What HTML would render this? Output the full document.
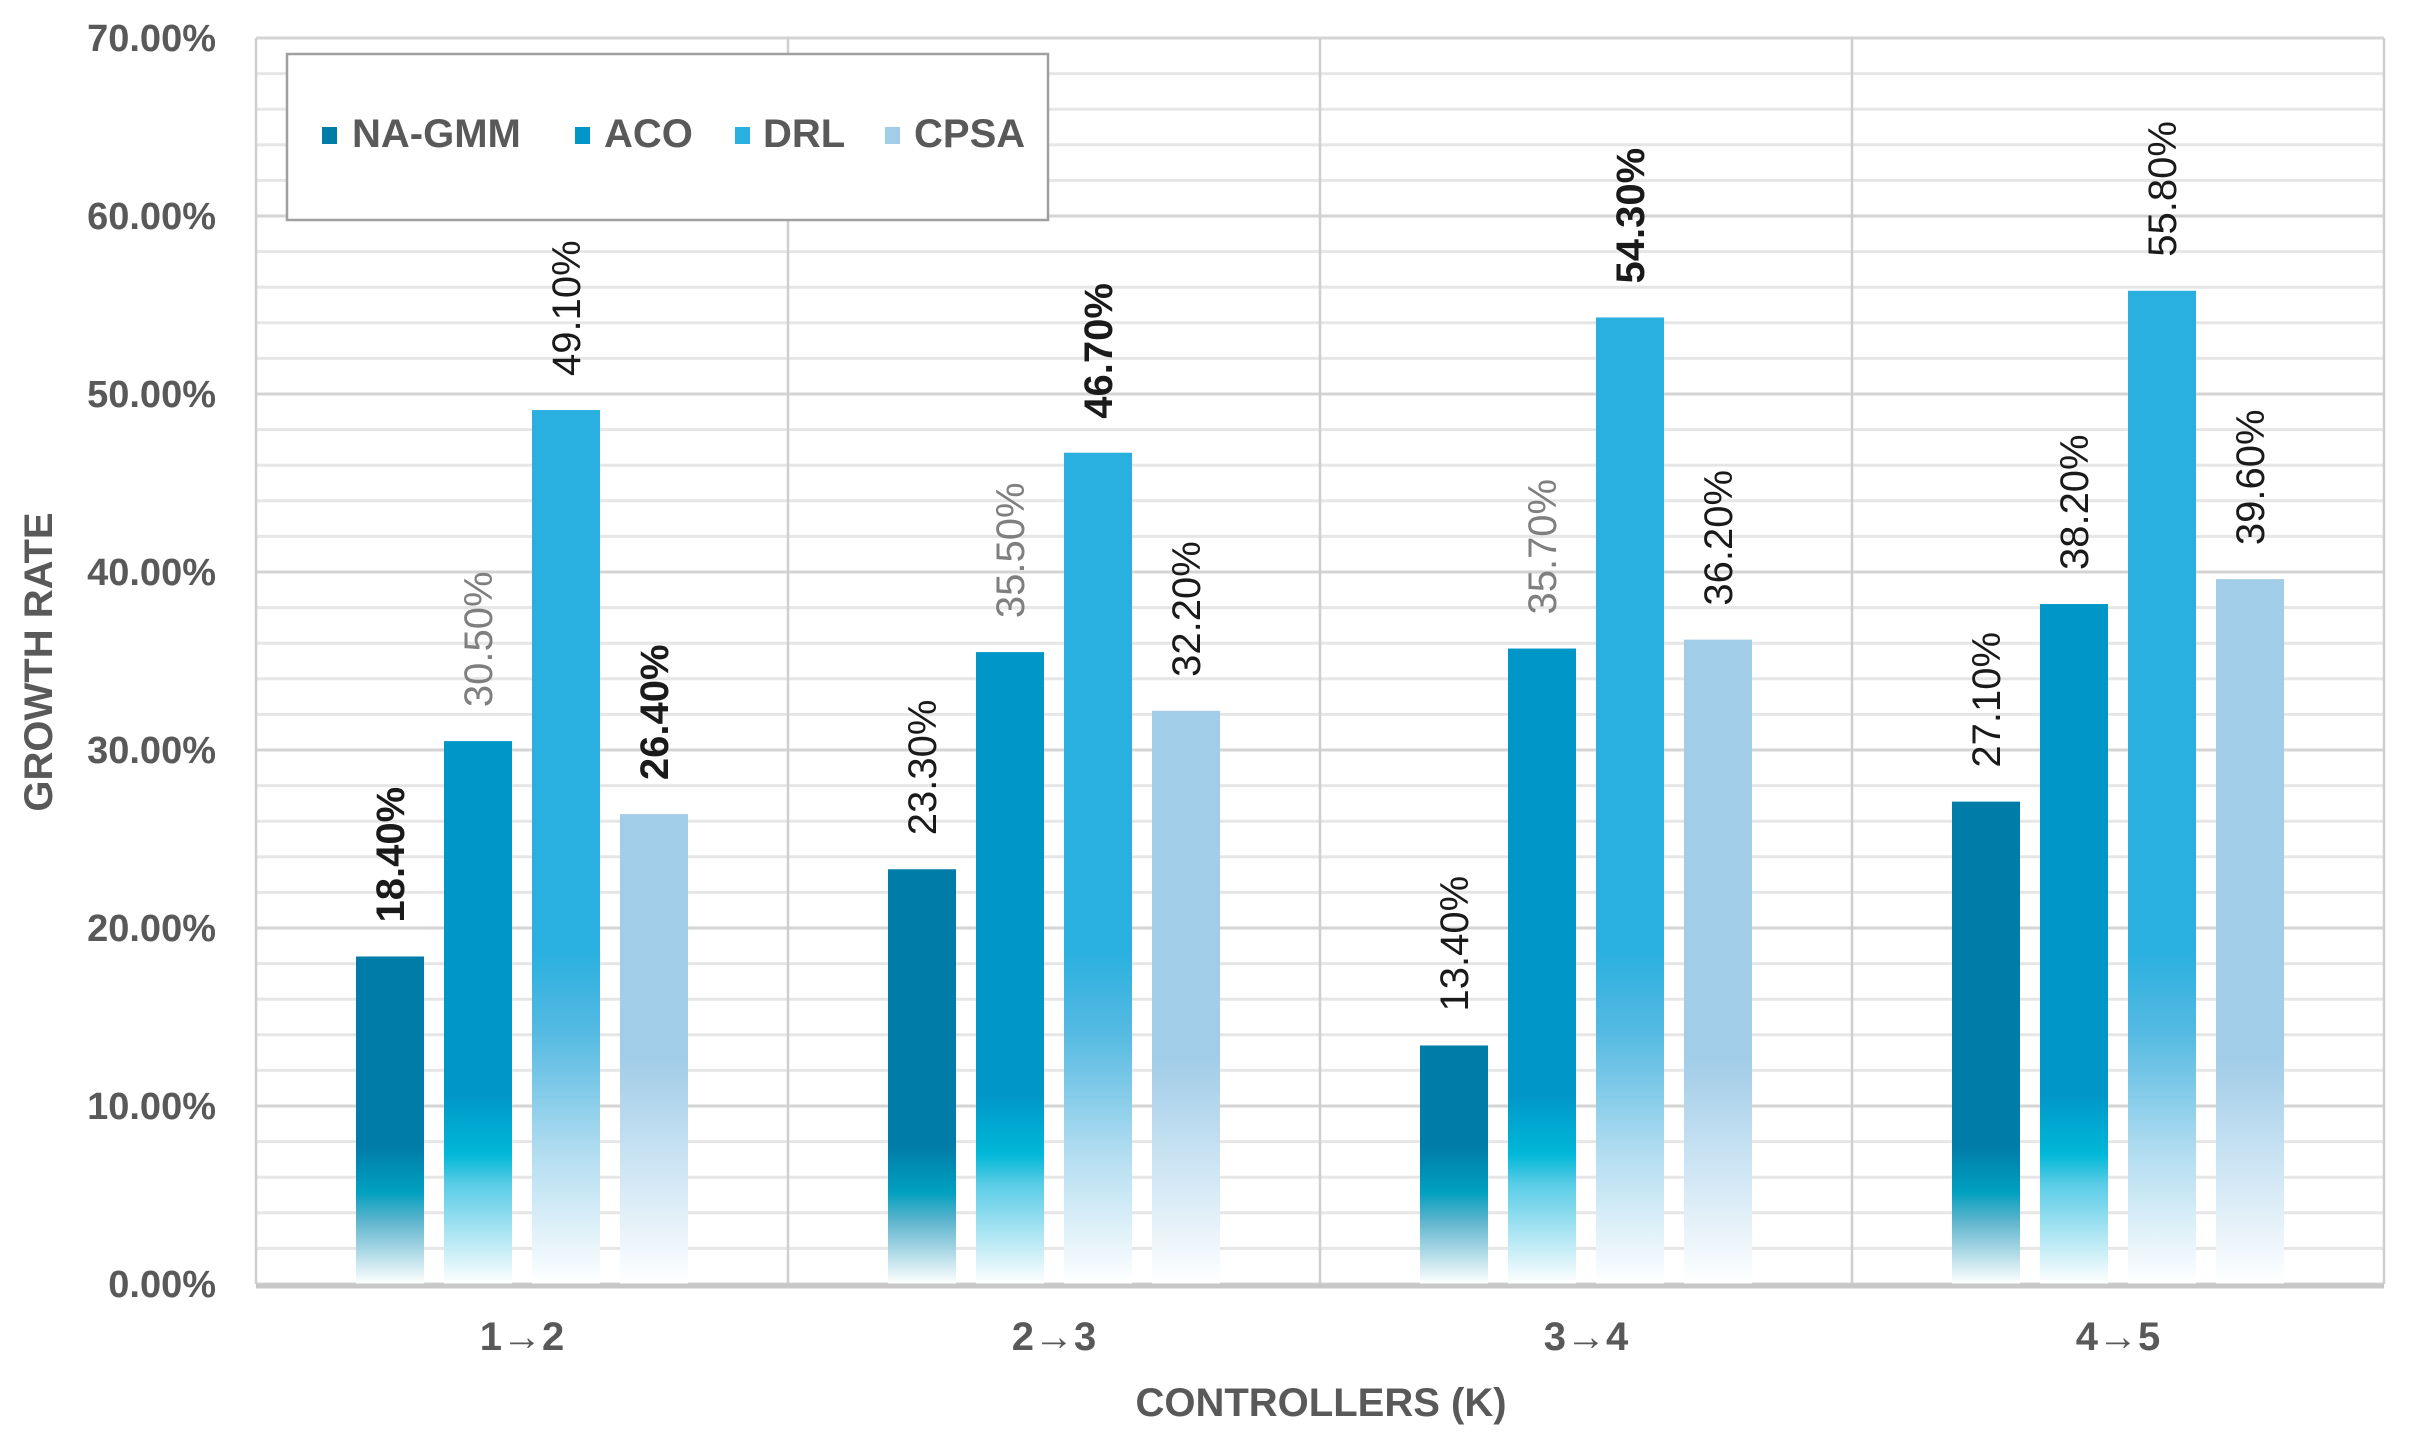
<!DOCTYPE html>
<html><head><meta charset="utf-8"><style>
html,body{margin:0;padding:0;background:#fff;}
svg{display:block;font-family:"Liberation Sans",Arial,sans-serif;}
</style></head><body>
<svg id="chart" width="2409" height="1435" viewBox="0 0 2409 1435" xmlns="http://www.w3.org/2000/svg">
<defs>
<linearGradient id="g0" gradientUnits="userSpaceOnUse" x1="0" y1="1284" x2="0" y2="1100">
<stop offset="0" stop-color="#ffffff"/><stop offset="0.35" stop-color="#5ab3cc"/><stop offset="0.5" stop-color="#00a0c0"/><stop offset="0.75" stop-color="#007ca8"/><stop offset="1" stop-color="#007ca8"/></linearGradient>
<linearGradient id="g1" gradientUnits="userSpaceOnUse" x1="0" y1="1284" x2="0" y2="1060">
<stop offset="0" stop-color="#ffffff"/><stop offset="0.45" stop-color="#58cbe6"/><stop offset="0.58" stop-color="#00b8d8"/><stop offset="0.85" stop-color="#0096c8"/><stop offset="1" stop-color="#0096c8"/></linearGradient>
<linearGradient id="g2" gradientUnits="userSpaceOnUse" x1="0" y1="1284" x2="0" y2="950">
<stop offset="0" stop-color="#ffffff"/><stop offset="0.4" stop-color="#b0dcf0"/><stop offset="0.75" stop-color="#55bae2"/><stop offset="1" stop-color="#29b0e0"/></linearGradient>
<linearGradient id="g3" gradientUnits="userSpaceOnUse" x1="0" y1="1284" x2="0" y2="1060">
<stop offset="0" stop-color="#ffffff"/><stop offset="0.5" stop-color="#cfe6f4"/><stop offset="1" stop-color="#a2cde8"/></linearGradient>
</defs>
<g id="grid"></g><g id="bars"></g><g id="labels"></g><g id="axes"></g>
<g>
<rect x="287" y="54" width="761" height="166" fill="#fff" stroke="#a0a0a0" stroke-width="2.5"/>
<rect x="322" y="127" width="15" height="17" fill="#007ca8"/>
<text x="352" y="147" font-size="40" font-weight="bold" fill="#595959">NA-GMM</text>
<rect x="575" y="127" width="15" height="17" fill="#0096c8"/>
<text x="604" y="147" font-size="40" font-weight="bold" fill="#595959">ACO</text>
<rect x="735" y="127" width="15" height="17" fill="#29b0e0"/>
<text x="763" y="147" font-size="40" font-weight="bold" fill="#595959">DRL</text>
<rect x="885" y="127" width="15" height="17" fill="#a2cde8"/>
<text x="914" y="147" font-size="40" font-weight="bold" fill="#595959">CPSA</text>
</g>
<text x="52" y="662" font-size="40" font-weight="bold" fill="#595959" text-anchor="middle" transform="rotate(-90 52 662)">GROWTH RATE</text>
<text x="1321" y="1416" font-size="40" font-weight="bold" fill="#595959" text-anchor="middle">CONTROLLERS (K)</text>
</svg>
<script>
const categories = ["1→2","2→3","3→4","4→5"];
const naGmm = [18.4, 23.3, 13.4, 27.1];
const aco = [30.5, 35.5, 35.7, 38.2];
const drl = [49.1, 46.7, 54.3, 55.8];
const cpsa = [26.4, 32.2, 36.2, 39.6];
const yTicks = [0,10,20,30,40,50,60,70];
const boldLabels = [[true,false,false,false],[false,false,false,false],[false,true,true,false],[true,false,false,false]];
const grayLabels = [[false,false,false,false],[true,true,true,false],[false,false,false,false],[false,false,false,false]];

const NS = "http://www.w3.org/2000/svg";
const X0 = 256, X1 = 2384, Y0 = 1284, Y70 = 38;
function yScale(v){ return Y0 - (v/70)*(Y0-Y70); }
const groupW = (X1-X0)/categories.length;
const barW = 68, step = 88;
function mk(tag, attrs, parent){ const e=document.createElementNS(NS,tag); for(const k in attrs) e.setAttribute(k, attrs[k]); parent.appendChild(e); return e; }

const grid = document.getElementById('grid');
for(let v=0; v<=70; v+=2){
  const y = yScale(v);
  const l = mk('line',{x1:X0,x2:X1,y1:y,y2:y,stroke: v%10===0?'#d4d4d4':'#e6e6e6','stroke-width':3},grid);
  
  
}
for(let i=0;i<=categories.length;i++){
  const x = X0 + i*groupW;
  const l = mk('line',{x1:x,x2:x,y1:Y70,y2:Y0,stroke:'#cfcfcf','stroke-width':2.5},grid);
  
  
}
const axes = document.getElementById('axes');
const ax = mk('line',{x1:X0,x2:X1,y1:Y0+2,y2:Y0+2,stroke:'#c8c8c8','stroke-width':5},axes);


yTicks.forEach(t=>{
  const tx = mk('text',{x:216,y:yScale(t)+13,'font-size':38,'font-weight':'bold',fill:'#595959','text-anchor':'end'},axes);
  tx.textContent = t.toFixed(2)+'%';
  
  
});
categories.forEach((c,i)=>{
  const tx = mk('text',{x:X0+i*groupW+groupW/2,y:1350,'font-size':40,'font-weight':'bold',fill:'#595959','text-anchor':'middle'},axes);
  tx.textContent = c;
  
  
});
const series = [naGmm, aco, drl, cpsa];
const names = ['na-gmm','aco','drl','cpsa'];
const bars = document.getElementById('bars'), labels = document.getElementById('labels');
series.forEach((vals, si)=>{
  vals.forEach((v, ci)=>{
    const x = X0 + ci*groupW + groupW/2 - 2*step + si*step + (step-barW)/2;
    const y = yScale(v);
    const r = mk('rect',{x:x,y:y,width:barW,height:Y0-y,fill:'url(#g'+si+')'},bars);
    
    
    const lx = x + barW/2 + 14, ly = y - 34;
    const t = mk('text',{x:lx,y:ly,'font-size':40,'font-weight':boldLabels[si][ci]?'bold':'normal',
      fill: grayLabels[si][ci]?'#7f7f7f':'#1a1a1a',transform:'rotate(-90 '+lx+' '+ly+')'},labels);
    t.textContent = v.toFixed(2)+'%';
    
    
  });
});
</script>
</body></html>
